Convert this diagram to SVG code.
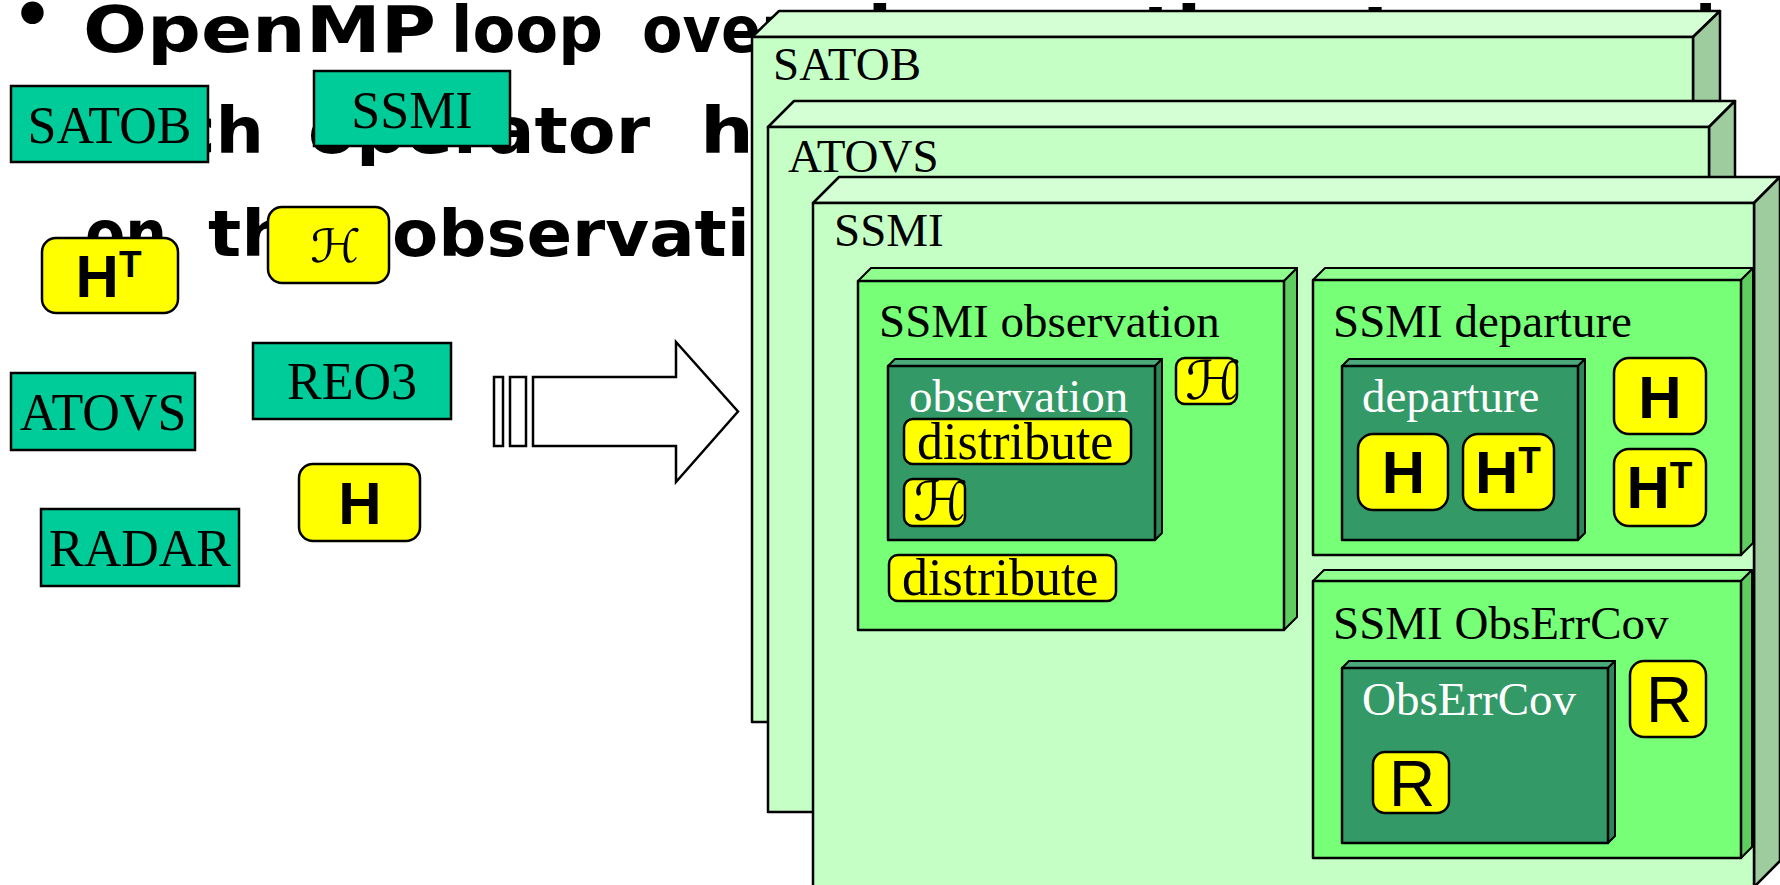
<svg xmlns="http://www.w3.org/2000/svg" width="1780" height="885" viewBox="0 0 1780 885">
<style>
.bg{font-family:"DejaVu Sans","Liberation Sans",sans-serif;font-weight:bold;font-size:64px;fill:#000}
.teal{fill:#00CC99;stroke:#000;stroke-width:2.5}
.yel{fill:#FFFF00;stroke:#000;stroke-width:2.5}
.tl{font-family:"Liberation Serif","Times New Roman",serif;font-size:52px;fill:#000;text-anchor:middle}
.lab{font-family:"Liberation Serif","Times New Roman",serif;font-size:47px;fill:#000}
.wlab{font-family:"Liberation Serif","Times New Roman",serif;font-size:47px;fill:#fff}
.dist{font-family:"Liberation Serif","Times New Roman",serif;font-size:52px;fill:#000}
.hb{font-family:"Liberation Sans",Arial,sans-serif;font-weight:bold;font-size:60px;fill:#000}
.hbm{font-family:"Liberation Sans",Arial,sans-serif;font-weight:bold;font-size:60px;fill:#000;text-anchor:middle}
.r{font-family:"Liberation Sans",Arial,sans-serif;font-size:64px;fill:#000;text-anchor:middle}
.scr{font-family:"DejaVu Serif","DejaVu Sans",serif;fill:#000}
.pf{fill:#C6FFC6;stroke:#000;stroke-width:2.5;stroke-linejoin:round}
.pt{fill:#D4FFD4;stroke:#000;stroke-width:2.5;stroke-linejoin:round}
.ps{fill:#9FCC9F;stroke:#000;stroke-width:2.5;stroke-linejoin:round}
.mf{fill:#77FF77;stroke:#000;stroke-width:2.5;stroke-linejoin:round}
.mt{fill:#90FF90;stroke:#000;stroke-width:2;stroke-linejoin:round}
.ms{fill:#5FCC5F;stroke:#000;stroke-width:2;stroke-linejoin:round}
.df{fill:#339966;stroke:#000;stroke-width:2.5;stroke-linejoin:round}
.dt{fill:#4BA97B;stroke:#000;stroke-width:2;stroke-linejoin:round}
.ds{fill:#2D8659;stroke:#000;stroke-width:2;stroke-linejoin:round}
.arr{fill:#fff;stroke:#000;stroke-width:2.5}
</style>

<g id="bullet-text">
<text class="bg" x="12" y="37" font-size="38">•</text>
<text class="bg" y="52"><tspan x="83" textLength="353" lengthAdjust="spacingAndGlyphs">OpenMP</tspan></text>
<text class="bg" y="52"><tspan x="451" textLength="152" lengthAdjust="spacingAndGlyphs">loop</tspan></text>
<text class="bg" y="52"><tspan x="642" textLength="148" lengthAdjust="spacingAndGlyphs">over</tspan></text>
<text class="bg" y="52"><tspan x="818" textLength="484" lengthAdjust="spacingAndGlyphs">observation</tspan></text>
<text class="bg" y="52"><tspan x="1361" textLength="190" lengthAdjust="spacingAndGlyphs">type</tspan></text>
<text class="bg" y="52"><tspan x="1588" textLength="128" lengthAdjust="spacingAndGlyphs">and</tspan></text>
<text class="bg" y="153"><tspan x="83" textLength="181" lengthAdjust="spacingAndGlyphs">each</tspan></text>
<text class="bg" y="153"><tspan x="308" textLength="342" lengthAdjust="spacingAndGlyphs">operator</tspan></text>
<text class="bg" y="153"><tspan x="700" textLength="150" lengthAdjust="spacingAndGlyphs">has</tspan></text>
<text class="bg" y="256"><tspan x="85" textLength="82" lengthAdjust="spacingAndGlyphs">on</tspan></text>
<text class="bg" y="256"><tspan x="208" textLength="130" lengthAdjust="spacingAndGlyphs">the</tspan></text>
<text class="bg" y="256"><tspan x="392" textLength="452" lengthAdjust="spacingAndGlyphs">observation</tspan></text>
</g>

<g id="satob-small"><rect class="teal" x="11" y="86" width="197" height="76"/><text class="tl" x="109.5" y="143">SATOB</text></g>
<g id="ssmi-small"><rect class="teal" x="314" y="71" width="196" height="75"/><text class="tl" x="412" y="128">SSMI</text></g>
<g id="hscript-small"><rect class="yel" x="268" y="207" width="121" height="76" rx="14"/><text class="scr" y="262" font-size="46"><tspan x="310" textLength="51" lengthAdjust="spacingAndGlyphs">ℋ</tspan></text></g>
<g id="ht-small"><rect class="yel" x="42" y="238" width="136" height="75" rx="14"/><text class="hb" x="75.6" y="297">H<tspan font-size="37" dy="-20.5">T</tspan></text></g>
<g id="atovs-small"><rect class="teal" x="11" y="373" width="184" height="77"/><text class="tl" x="103" y="430">ATOVS</text></g>
<g id="reo3-small"><rect class="teal" x="253" y="343" width="198" height="76"/><text class="tl" x="352" y="399">REO3</text></g>
<g id="h-small"><rect class="yel" x="299" y="464" width="121" height="77" rx="14"/><text class="hbm" x="360" y="524">H</text></g>
<g id="radar-small"><rect class="teal" x="41" y="509" width="198" height="77"/><text class="tl" x="140" y="566">RADAR</text></g>

<g id="connectors">
<rect class="arr" x="494" y="377" width="9" height="69"/>
<rect class="arr" x="510" y="377" width="16" height="69"/>
<polygon class="arr" points="533,377 676,377 676,342 738,411.5 676,482 676,446 533,446"/>
</g>

<g id="satob-panel">
<polygon class="pt" points="752,37 1693,37 1720,11 779,11"/>
<polygon class="ps" points="1693,37 1720,11 1720,695 1693,722"/>
<rect class="pf" x="752" y="37" width="941" height="685"/>
<text class="lab" x="773" y="80">SATOB</text>
</g>

<g id="atovs-panel">
<polygon class="pt" points="768,127 1709,127 1735,101 794,101"/>
<polygon class="ps" points="1709,127 1735,101 1735,786 1709,812"/>
<rect class="pf" x="768" y="127" width="941" height="685"/>
<text class="lab" x="788" y="172">ATOVS</text>
</g>

<g id="ssmi-panel">
<polygon class="pt" points="813,203 1754,203 1780,177 839,177"/>
<polygon class="ps" points="1754,203 1780,177 1780,861 1754,887"/>
<rect class="pf" x="813" y="203" width="941" height="684"/>
<text class="lab" x="834" y="246">SSMI</text>
</g>

<g id="ssmi-observation">
<polygon class="mt" points="858,281 1284,281 1297,268 871,268"/>
<polygon class="ms" points="1284,281 1297,268 1297,617 1284,630"/>
<rect class="mf" x="858" y="281" width="426" height="349"/>
<text class="lab" x="879" y="337">SSMI observation</text>
</g>

<g id="observation">
<polygon class="dt" points="888,366 1155,366 1162,359 895,359"/>
<polygon class="ds" points="1155,366 1162,359 1162,533 1155,540"/>
<rect class="df" x="888" y="366" width="267" height="174"/>
<text class="wlab" x="909" y="412">observation</text>
</g>

<g id="distribute-inner"><rect class="yel" x="904" y="419" width="227" height="45" rx="9"/><text class="dist" x="917" y="459">distribute</text></g>
<g id="hscript-inner"><rect class="yel" x="904" y="479" width="61" height="47" rx="9"/><text class="scr" y="520" font-size="54"><tspan x="913" textLength="55" lengthAdjust="spacingAndGlyphs">ℋ</tspan></text></g>
<g id="hscript-outer"><rect class="yel" x="1176" y="358" width="61" height="46" rx="9"/><text class="scr" y="399" font-size="53"><tspan x="1185" textLength="56" lengthAdjust="spacingAndGlyphs">ℋ</tspan></text></g>
<g id="distribute-outer"><rect class="yel" x="889" y="555" width="227" height="46" rx="9"/><text class="dist" x="902" y="595">distribute</text></g>

<g id="ssmi-departure">
<polygon class="mt" points="1313,280 1741,280 1753,268 1325,268"/>
<polygon class="ms" points="1741,280 1753,268 1753,543 1741,555"/>
<rect class="mf" x="1313" y="280" width="428" height="275"/>
<text class="lab" x="1333" y="337">SSMI departure</text>
</g>

<g id="departure">
<polygon class="dt" points="1342,366 1578,366 1585,359 1349,359"/>
<polygon class="ds" points="1578,366 1585,359 1585,533 1578,540"/>
<rect class="df" x="1342" y="366" width="236" height="174"/>
<text class="wlab" x="1362" y="412">departure</text>
</g>

<g id="h-dep-inner"><rect class="yel" x="1358" y="434" width="90" height="76" rx="15"/><text class="hbm" x="1403.5" y="493">H</text></g>
<g id="ht-dep-inner"><rect class="yel" x="1463" y="434" width="91" height="76" rx="15"/><text class="hb" x="1475" y="493">H<tspan font-size="37" dy="-20">T</tspan></text></g>
<g id="h-dep-outer"><rect class="yel" x="1614" y="358" width="92" height="76" rx="15"/><text class="hbm" x="1660" y="418">H</text></g>
<g id="ht-dep-outer"><rect class="yel" x="1614" y="449" width="92" height="77" rx="15"/><text class="hb" x="1626.5" y="508">H<tspan font-size="37" dy="-20">T</tspan></text></g>

<g id="ssmi-obserrcov">
<polygon class="mt" points="1313,581 1741,581 1752,570 1324,570"/>
<polygon class="ms" points="1741,581 1752,570 1752,847 1741,858"/>
<rect class="mf" x="1313" y="581" width="428" height="277"/>
<text class="lab" x="1333" y="639">SSMI ObsErrCov</text>
</g>

<g id="obserrcov">
<polygon class="dt" points="1342,668 1608,668 1615,661 1349,661"/>
<polygon class="ds" points="1608,668 1615,661 1615,836 1608,843"/>
<rect class="df" x="1342" y="668" width="266" height="175"/>
<text class="wlab" x="1362" y="715">ObsErrCov</text>
</g>

<g id="r-outer"><rect class="yel" x="1630" y="661" width="76" height="76" rx="14"/><text class="r" x="1669" y="722">R</text></g>
<g id="r-inner"><rect class="yel" x="1373" y="752" width="76" height="61" rx="12"/><text class="r" x="1412" y="806">R</text></g>
</svg>
